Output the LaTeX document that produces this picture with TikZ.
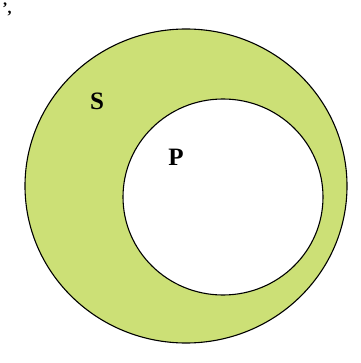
\documentclass[tikz,border=0pt]{standalone}
\usepackage{fontspec}
\setmainfont{Liberation Serif}
\usepackage{tikz}
\usetikzlibrary{positioning}
\definecolor{colSET}{RGB}{204,224,118}

\begin{document}
\begin{tikzpicture}[x=1pt, y=-1pt, line width=1.1pt,
    setlabel/.style={font=\fontsize{25}{25}\selectfont\bfseries}]
      \useasboundingbox (0,0) rectangle (360,363);
      % --- stray mark top left ---
      \node[font=\fontsize{16}{16}\selectfont\bfseries, inner sep=0pt] (mark) at (7,9) {',};
      % --- outer set S ---
      \fill[colSET] (186,186) ellipse [x radius=161, y radius=157];
      \draw (186,186) ellipse [x radius=161, y radius=157];
      % --- inner set P ---
      \fill[white] (223,197) ellipse [x radius=100, y radius=98];
      \draw (223,197) ellipse [x radius=100, y radius=98];
      \node[setlabel] (S) at (97,101) {S};
      \node[setlabel] (P) at (176,157) {P};
    \end{tikzpicture}
\end{document}
